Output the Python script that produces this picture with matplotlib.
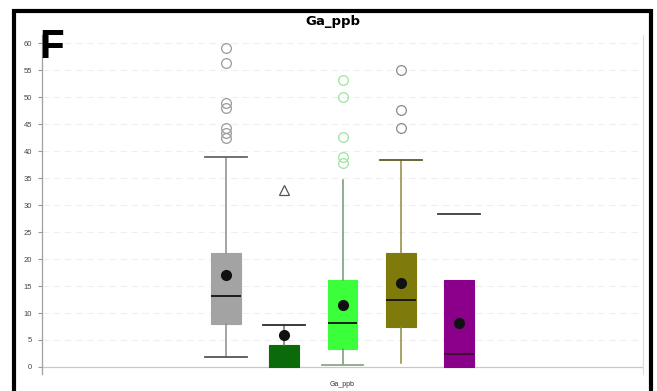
import matplotlib
matplotlib.use("Agg")
import matplotlib.pyplot as plt
from matplotlib.patches import Rectangle

# ---- data ----
groups = ["g1", "g2", "g3", "g4", "g5"]
q1 = [8.0, 0.0, 3.3, 7.4, 0.0]
med = [13.1, 0.0, 8.1, 12.4, 2.4]
q3 = [21.1, 4.1, 16.1, 21.1, 16.1]
means = [17.0, 5.9, 11.5, 15.6, 8.1]
whislo = [1.9, 0.0, 0.4, 0.8, 0.0]
whishi = [38.9, 7.8, 34.6, 38.3, 28.3]
fliers = [
    [59.0, 56.3, 48.9, 48.0, 44.2, 43.3, 42.4],
    [32.8],
    [53.1, 50.0, 42.6, 38.9, 37.7],
    [55.0, 47.6, 44.2],
    [],
]
yticks = [0, 5, 10, 15, 20, 25, 30, 35, 40, 45, 50, 55, 60]
title = "Ga_ppb"
xlabel = "Ga_ppb"
panel = "F"

# ---- styles ----
box_colors = ["#a3a3a3", "#0b6b0b", "#3cff3c", "#7f7a0c", "#8a008a"]
median_colors = ["#111111", "#0b6b0b", "#111111", "#111111", "#3a0a2a"]
whisker_colors = ["#8c8c8c", "#707070", "#6f9a6f", "#8d8a3a", "none"]
lo_cap_colors = ["#555555", "none", "#8aa88a", "none", "none"]
hi_cap_colors = ["#666666", "#2a2a2a", "none", "#5e5a2a", "#3a3a3a"]
flier_colors = ["#9a9a9a", "#555555", "#9ee39e", "#8a8a8a", "#9a9a9a"]
flier_markers = ["o", "^", "o", "o", "o"]

plt.rcParams["font.family"] = ["Liberation Sans", "DejaVu Sans"]

fig = plt.figure(figsize=(6.57, 3.91), dpi=100)
W, H = 657, 391
ax_left, ax_right = 42, 643
ax_top, ax_bot = 35, 374
ax = fig.add_axes([ax_left / W, 1 - ax_bot / H, (ax_right - ax_left) / W, (ax_bot - ax_top) / H])

positions = list(range(1, len(groups) + 1))
for i in range(len(groups)):
    s = dict(med=med[i], q1=q1[i], q3=q3[i], whislo=whislo[i], whishi=whishi[i],
             fliers=[], mean=means[i], label=groups[i])
    art = ax.bxp([s], positions=[positions[i]], widths=0.51, patch_artist=True,
                 showmeans=True, showfliers=False,
                 boxprops=dict(facecolor=box_colors[i], edgecolor=box_colors[i], linewidth=0.8),
                 medianprops=dict(color=median_colors[i], linewidth=1.3),
                 whiskerprops=dict(color=whisker_colors[i], linewidth=1.1),
                 capprops=dict(linewidth=1.3),
                 capwidths=0.72,
                 meanprops=dict(marker="o", markerfacecolor="#111111", markeredgecolor="#111111",
                                markersize=7), zorder=3)
    art["caps"][0].set_color(lo_cap_colors[i])
    art["caps"][1].set_color(hi_cap_colors[i])
    if fliers[i]:
        ax.plot([positions[i]] * len(fliers[i]), fliers[i], linestyle="none",
                marker=flier_markers[i], markersize=7, markerfacecolor="none",
                markeredgecolor=flier_colors[i], markeredgewidth=0.9, zorder=4)

ax.set_xlim(3 - 5.16, 3 + 5.16)
ax.set_ylim(-1.3, 61.5)
ax.set_yticks(yticks)
ax.set_yticklabels([str(t) for t in yticks], fontsize=5.5, color="#444444")
ax.set_xticks([])
for t in yticks:
    if t > 0:
        ax.axhline(t, color="#efefef", linewidth=0.8, linestyle=(0, (6, 4)), zorder=0)
ax.axhline(0, color="#c8c8c8", linewidth=0.9, zorder=1)
ax.tick_params(axis="y", length=3, width=0.8, color="#999999", pad=4)
for sp in ["top", "bottom"]:
    ax.spines[sp].set_visible(False)
ax.spines["left"].set_color("#a0a0a0")
ax.spines["right"].set_color("#dddddd")
ax.spines["left"].set_linewidth(0.9)
ax.spines["right"].set_linewidth(0.8)

fig.text(333 / W, 1 - 22 / H, title, ha="center", va="center", fontsize=9.5,
         fontweight="bold", family=["DejaVu Sans"])
fig.text(342 / W, 1 - 384 / H, xlabel, ha="center", va="center", fontsize=5, color="#333333")
fig.text(39 / W, 1 - 47 / H, panel, ha="left", va="center", fontsize=29, fontweight="bold")

# outer black frame
fig.patches.append(Rectangle((14 / W, -0.05), (651 - 14) / W, 1.05 - 11 / H,
                             transform=fig.transFigure, fill=False, edgecolor="black",
                             linewidth=3, zorder=10))

fig.savefig("out.png", dpi=100)
